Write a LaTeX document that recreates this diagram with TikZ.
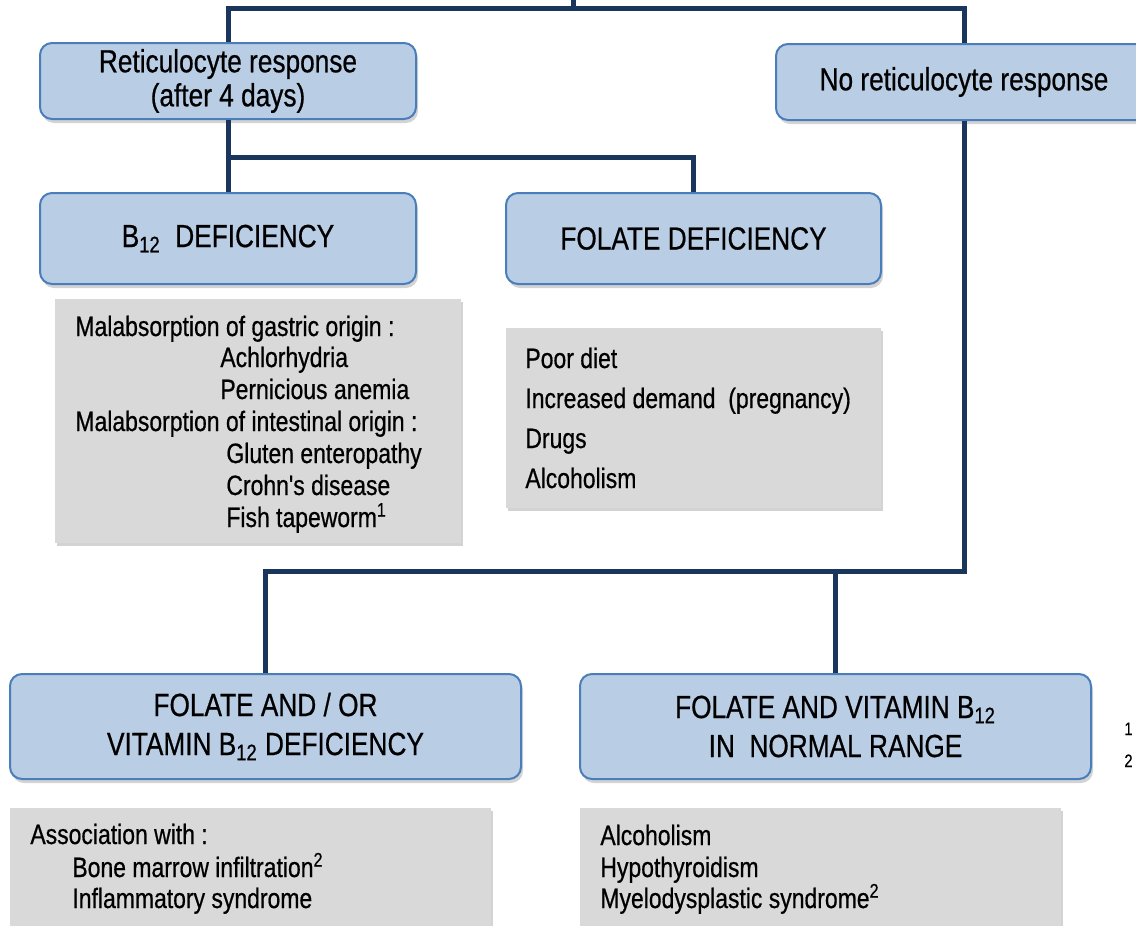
\documentclass[tikz,border=0pt]{standalone}
\usepackage{fontspec}
\newfontfamily\narrow{Liberation Sans}[FakeStretch=0.82, FakeBold=0.6]
\usepackage{tikz}
\usetikzlibrary{
  positioning,%
  shadows,%
  calc
}
\definecolor{boxfill}{HTML}{B9CDE5}
\definecolor{boxedge}{HTML}{4A7EBB}
\definecolor{linkblue}{HTML}{1B365D}
\definecolor{grayfill}{HTML}{D9D9D9}
\tikzset{>=latex}
\tikzset{
  titlebox/.style={draw=boxedge, fill=boxfill, line width=1pt,
    rounded corners=6pt, align=center, inner sep=0pt,
    drop shadow={shadow xshift=1pt, shadow yshift=-2pt, opacity=0.35},
    font=\narrow\fontsize{16}{19.5}\selectfont},
  listbox/.style={fill=grayfill, inner sep=0pt,
    drop shadow={shadow xshift=1pt, shadow yshift=-1.5pt, opacity=0.35}},
  listitem/.style={anchor=base west, inner sep=0pt,
    font=\narrow\fontsize{14}{17}\selectfont},
  link/.style={draw=linkblue, line width=2.5pt}
}

\begin{document}
\begin{tikzpicture}[x=0.5pt, y=-0.5pt]
  \useasboundingbox (0,0) rectangle (1136,926);
  \clip (0,0) rectangle (1136,926);

  % response boxes
  \node[titlebox, minimum width=188pt, minimum height=38pt,
    font=\narrow\fontsize{16}{17}\selectfont]
    (resp) at (228,81) {Reticulocyte response\\(after 4 days)};
  \node[titlebox, minimum width=188pt, minimum height=38pt,
    font=\narrow\fontsize{16}{17}\selectfont]
    (noresp) at (964,82) {No reticulocyte response};

  % deficiency boxes
  \node[titlebox, minimum width=188pt, minimum height=45.5pt]
    (b12) at (228,238.5) {B\textsubscript{12}\ \ DEFICIENCY};
  \node[titlebox, minimum width=187.5pt, minimum height=45.5pt]
    (folate) at (693.5,238.5) {FOLATE DEFICIENCY};
  \node[titlebox, minimum width=255.5pt, minimum height=52.5pt]
    (either) at (265.5,726.5) {FOLATE AND / OR\\VITAMIN B\textsubscript{12} DEFICIENCY};
  \node[titlebox, minimum width=255.5pt, minimum height=52.5pt]
    (normal) at (835.5,726.5) {FOLATE AND VITAMIN B\textsubscript{12}\\IN\ \ NORMAL RANGE};

  % cause lists
  \node[listbox, minimum width=203pt, minimum height=122pt] (b12list) at (258,421) {};
  \node[listbox, minimum width=187.5pt, minimum height=90pt] (folist) at (693.5,418) {};
  \node[listbox, minimum width=240.5pt, minimum height=66pt] (eilist) at (250.5,874) {};
  \node[listbox, minimum width=240.5pt, minimum height=66pt] (nolist) at (820.5,874) {};

  \foreach \txt/\x/\y [count=\i] in {
      {Malabsorption of gastric origin :}/75/336,
      {Achlorhydria}/220/367,
      {Pernicious anemia}/220/399,
      {Malabsorption of intestinal origin :}/75/431,
      {Gluten enteropathy}/226/463,
      {Crohn's disease}/226/495,
      {Fish tapeworm\textsuperscript{1}}/226/527}
    \node[listitem] (b12item\i) at (\x,\y) {\txt};

  \foreach \txt/\y [count=\i] in {
      {Poor diet}/368,
      {Increased demand\ \ (pregnancy)}/408,
      {Drugs}/448,
      {Alcoholism}/488}
    \node[listitem] (foitem\i) at (525,\y) {\txt};

  \foreach \txt/\x/\y [count=\i] in {
      {Association with :}/30/844,
      {Bone marrow infiltration\textsuperscript{2}}/72/877,
      {Inflammatory syndrome}/72/908}
    \node[listitem] (eiitem\i) at (\x,\y) {\txt};

  \foreach \txt/\y [count=\i] in {
      {Alcoholism}/845,
      {Hypothyroidism}/877,
      {Myelodysplastic syndrome\textsuperscript{2}}/908}
    \node[listitem] (noitem\i) at (600,\y) {\txt};

  % footnote marks
  \node[listitem, font=\narrow\fontsize{9}{10}\selectfont] (fn1) at (1124,735) {1};
  \node[listitem, font=\narrow\fontsize{9}{10}\selectfont] (fn2) at (1124,767) {2};

  % connectors
  \coordinate (start) at (573,0);
  \coordinate (split) at (573,8);
  \coordinate (fork1) at (228,157);
  \coordinate (fork2) at (964,571);
  \draw[link] (start) -- (split);
  \draw[link] (resp.north) |- (split) -| (noresp.north);
  \draw[link] (resp.south) -- (b12.north);
  \draw[link] (fork1) -| (folate.north);
  \draw[link] (noresp.south) -- (fork2) -| (either.north);
  \draw[link] (normal.north) -- (normal.north |- fork2);
\end{tikzpicture}
\end{document}
